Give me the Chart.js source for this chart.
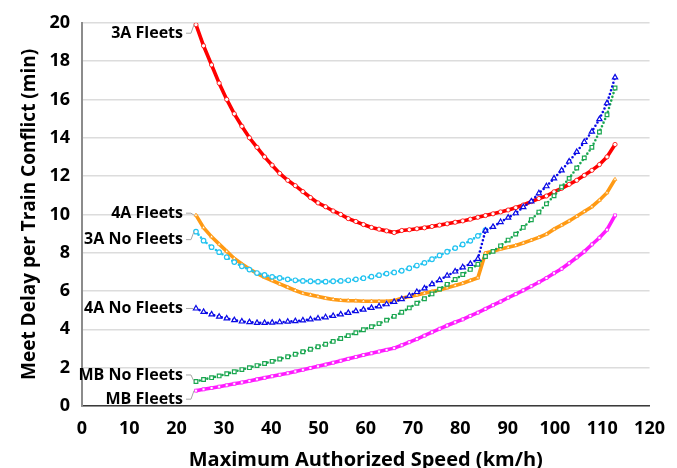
<!DOCTYPE html>
<html>
<head>
<meta charset="utf-8">
<script src="https://cdn.jsdelivr.net/npm/chart.js@4.4.1/dist/chart.umd.min.js"></script>
<style>
  html, body { margin: 0; padding: 0; background: #fff; }
  #chart { display: block; }
</style>
</head>
<body>
<canvas id="chart" width="677" height="468"></canvas>
<script>
// speeds are 15..70 mph expressed in km/h
const speedKmh = [24.1, 25.7, 27.4, 29.0, 30.6, 32.2, 33.8, 35.4, 37.0, 38.6,
  40.2, 41.8, 43.5, 45.1, 46.7, 48.3, 49.9, 51.5, 53.1, 54.7,
  56.3, 57.9, 59.5, 61.2, 62.8, 64.4, 66.0, 67.6, 69.2, 70.8,
  72.4, 74.0, 75.6, 77.2, 78.9, 80.5, 82.1, 83.7, 85.3, 86.9,
  88.5, 90.1, 91.7, 93.3, 95.0, 96.6, 98.2, 99.8, 101.4, 103.0,
  104.6, 106.2, 107.8, 109.4, 111.0, 112.7];

const fleets3A = [19.9, 18.8, 17.8, 16.85, 16.0, 15.25, 14.6, 14.0, 13.5, 13.0,
  12.57, 12.14, 11.78, 11.5, 11.19, 10.88, 10.6, 10.4, 10.18, 10.0,
  9.78, 9.63, 9.47, 9.32, 9.23, 9.14, 9.05, 9.16, 9.2, 9.25,
  9.3, 9.37, 9.44, 9.51, 9.59, 9.66, 9.75, 9.85, 9.94, 10.03,
  10.13, 10.23, 10.35, 10.49, 10.67, 10.83, 10.96, 11.18, 11.36, 11.57,
  11.78, 12.04, 12.3, 12.6, 13.0, 13.65];

const noFleets3A = [9.1, 8.63, 8.29, 8.03, 7.77, 7.51, 7.29, 7.12, 6.94, 6.84,
  6.74, 6.68, 6.61, 6.56, 6.53, 6.51, 6.49, 6.49, 6.51, 6.53,
  6.56, 6.61, 6.67, 6.75, 6.83, 6.91, 6.97, 7.06, 7.19, 7.33,
  7.47, 7.66, 7.86, 8.05, 8.24, 8.43, 8.62, 8.88, 9.18, null,
  null, null, null, null, null, null, null, null, null, null,
  null, null, null, null, null, null];

const fleets4A = [9.96, 9.31, 8.83, 8.45, 8.07, 7.7, 7.41, 7.15, 6.92, 6.72,
  6.55, 6.37, 6.2, 6.03, 5.89, 5.8, 5.71, 5.63, 5.56, 5.52,
  5.5, 5.49, 5.47, 5.47, 5.47, 5.47, 5.5, 5.62, 5.71, 5.8,
  5.89, 5.97, 6.06, 6.17, 6.29, 6.41, 6.55, 6.69, 7.98, 8.07,
  8.19, 8.28, 8.38, 8.51, 8.66, 8.8, 8.97, 9.23, 9.44, 9.66,
  9.9, 10.15, 10.4, 10.74, 11.13, 11.83];

const noFleets4A = [5.09, 4.91, 4.78, 4.66, 4.57, 4.48, 4.41, 4.38, 4.34, 4.34,
  4.35, 4.37, 4.4, 4.43, 4.47, 4.52, 4.57, 4.63, 4.7, 4.78,
  4.86, 4.95, 5.03, 5.12, 5.2, 5.31, 5.43, 5.58, 5.75, 5.95,
  6.14, 6.36, 6.57, 6.8, 7.02, 7.24, 7.42, 7.68, 9.15, 9.35,
  9.6, 9.83, 10.06, 10.38, 10.68, 11.1, 11.47, 11.88, 12.3, 12.76,
  13.26, 13.78, 14.32, 14.97, 15.8, 17.15];

const fleetsMB = [0.8, 0.87, 0.94, 1.01, 1.08, 1.16, 1.23, 1.31, 1.39, 1.47,
  1.55, 1.63, 1.71, 1.8, 1.89, 1.98, 2.07, 2.16, 2.26, 2.36,
  2.46, 2.56, 2.66, 2.75, 2.84, 2.93, 3.02, 3.17, 3.33, 3.49,
  3.67, 3.85, 4.03, 4.2, 4.37, 4.52, 4.7, 4.87, 5.07, 5.26,
  5.45, 5.65, 5.84, 6.04, 6.25, 6.46, 6.68, 6.93, 7.16, 7.45,
  7.75, 8.06, 8.43, 8.78, 9.2, 9.95];

const noFleetsMB = [1.28, 1.38, 1.48, 1.57, 1.68, 1.79, 1.9, 2.0, 2.11, 2.22,
  2.33, 2.45, 2.57, 2.7, 2.83, 2.96, 3.09, 3.22, 3.37, 3.52,
  3.67, 3.82, 3.98, 4.14, 4.3, 4.48, 4.68, 4.89, 5.12, 5.36,
  5.6, 5.85, 6.1, 6.35, 6.6, 6.86, 7.13, 7.4, 7.8, 8.07,
  8.36, 8.66, 8.97, 9.32, 9.72, 10.12, 10.55, 10.97, 11.43, 11.88,
  12.42, 12.95, 13.5, 14.3, 15.2, 16.6];

const xTickMin = 0, xTickMax = 120, xTickStep = 10;
const yTickMin = 0, yTickMax = 20, yTickStep = 2;

const FONT = "'Open Sans', 'DejaVu Sans', sans-serif";

function toPoints(values) {
  return speedKmh.map((s, i) => ({ x: s, y: values[i] }));
}

// solid series with small white markers
function fleetSet(label, values, color, shape, order) {
  return {
    label: label,
    data: toPoints(values),
    borderColor: color,
    borderWidth: 3.6,
    pointStyle: shape,
    pointRadius: 2.1,
    pointBorderWidth: 0.8,
    pointBorderColor: color,
    pointBackgroundColor: '#ffffff',
    order: order,
  };
}

// dotted series with open markers
function noFleetSet(label, values, color, shape, radius, order) {
  return {
    label: label,
    data: toPoints(values),
    borderColor: color,
    borderWidth: 2.6,
    borderDash: [0, 3.9],
    borderCapStyle: 'round',
    pointStyle: shape,
    pointRadius: radius,
    pointBorderWidth: 1.2,
    pointBorderColor: color,
    pointBackgroundColor: '#ffffff',
    order: order,
  };
}

// text next to the first point of each series (offset in px from that point)
const labelShift = {
  '3A Fleets': 8.5,
  '3A No Fleets': 8,
  '4A Fleets': -2,
  '4A No Fleets': 0,
  'MB Fleets': 8.5,
  'MB No Fleets': -6.5,
};

const seriesLabels = {
  id: 'seriesLabels',
  afterDraw(chart) {
    const ctx = chart.ctx;
    ctx.save();
    ctx.font = "bold 16px " + FONT;
    ctx.textAlign = 'right';
    ctx.textBaseline = 'middle';
    chart.data.datasets.forEach((ds, i) => {
      const p = chart.getDatasetMeta(i).data[0];
      const ty = p.y + labelShift[ds.label];
      const tx = p.x - 13;
      ctx.strokeStyle = '#a6a6a6';
      ctx.lineWidth = 1;
      ctx.beginPath();
      ctx.moveTo(tx + 3, ty);
      ctx.lineTo(tx + 8, ty);
      ctx.lineTo(p.x - 2, p.y);
      ctx.stroke();
      ctx.fillStyle = '#000000';
      ctx.fillText(ds.label, tx, ty);
    });
    ctx.restore();
  }
};

new Chart(document.getElementById('chart'), {
  type: 'line',
  data: {
    datasets: [
      noFleetSet('4A No Fleets', noFleets4A, '#0a0ae6', 'triangle', 3, 0),
      noFleetSet('MB No Fleets', noFleetsMB, '#1aa650', 'rect', 2.6, 1),
      noFleetSet('3A No Fleets', noFleets3A, '#22c3f0', 'circle', 2.3, 2),
      fleetSet('3A Fleets', fleets3A, '#ff0000', 'circle', 3),
      fleetSet('4A Fleets', fleets4A, '#ff9a14', 'triangle', 4),
      fleetSet('MB Fleets', fleetsMB, '#ff1aff', 'rect', 5),
    ]
  },
  options: {
    responsive: false,
    animation: false,
    devicePixelRatio: 1,
    layout: { padding: { top: 20, right: 16, bottom: 0, left: 0 } },
    plugins: {
      legend: { display: false },
      tooltip: { enabled: false },
    },
    scales: {
      x: {
        type: 'linear',
        min: xTickMin,
        max: xTickMax,
        afterFit: (scale) => { scale.height = 62; },
        ticks: {
          stepSize: xTickStep,
          padding: 12,
          maxRotation: 0,
          color: '#000000',
          font: { family: FONT, size: 18, weight: 'bold' },
        },
        grid: { display: false, drawTicks: false },
        border: { display: true, color: '#3a3a3a', width: 1.5 },
        title: {
          display: true,
          text: 'Maximum Authorized Speed (km/h)',
          color: '#000000',
          font: { family: FONT, size: 20, weight: 'bold', lineHeight: 0.8 },
          padding: { top: 0, bottom: 0 },
        },
      },
      y: {
        min: yTickMin,
        max: yTickMax,
        afterFit: (scale) => { scale.width = 82; },
        ticks: {
          stepSize: yTickStep,
          padding: 12,
          color: '#000000',
          font: { family: FONT, size: 18, weight: 'bold' },
        },
        grid: { color: '#dcdcdc', lineWidth: 1.5, drawTicks: false },
        border: { display: true, color: '#8c8c8c', width: 2 },
        title: {
          display: true,
          text: 'Meet Delay per Train Conflict (min)',
          color: '#000000',
          font: { family: FONT, size: 19, weight: 'bold', lineHeight: 1 },
          padding: { top: 20, bottom: 0 },
        },
      },
    },
  },
  plugins: [seriesLabels],
});
</script>
</body>
</html>
